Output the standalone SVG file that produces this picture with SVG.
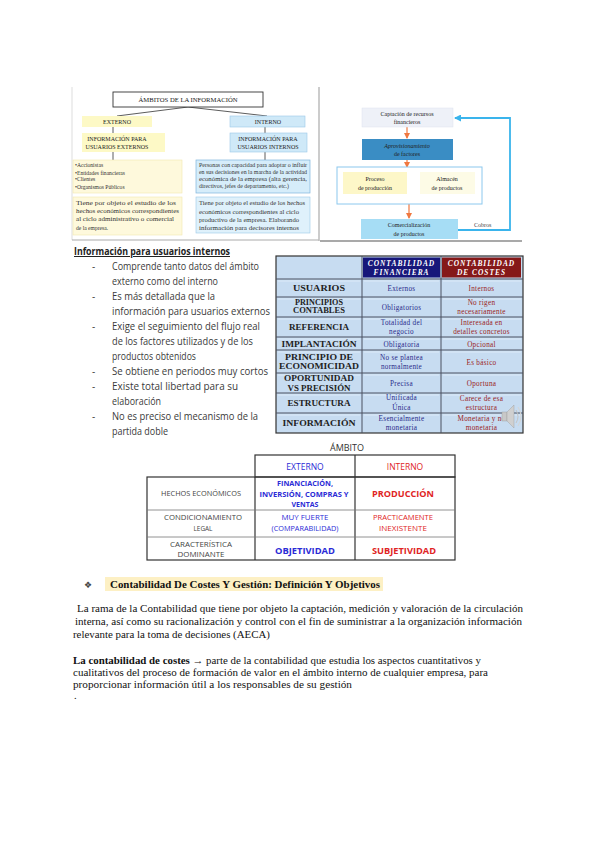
<svg xmlns="http://www.w3.org/2000/svg" width="600" height="848" viewBox="0 0 600 848">
<defs>
<marker id="ao" markerWidth="6" markerHeight="6" refX="5" refY="3" orient="auto" markerUnits="userSpaceOnUse"><path d="M0,0 L6,3 L0,6 z" fill="#f07840"/></marker>
<marker id="ab" markerWidth="7" markerHeight="7" refX="6" refY="3.5" orient="auto" markerUnits="userSpaceOnUse"><path d="M0,0 L7,3.5 L0,7 z" fill="#3ab4ec"/></marker>
</defs>
<style>
.sf{font-family:"Liberation Serif",serif}
.ss{font-family:"Liberation Sans",sans-serif}
.os{font-family:"Open Sans","Liberation Sans",sans-serif}
.tl{font-size:5.6px;fill:#333}
.tc{font-size:6px;fill:#222;text-anchor:middle}
.ln{stroke:#333;stroke-width:0.8;fill:none}
.bul{font-size:10px;fill:#3a3a3a}
.c1{font-size:7.2px;font-weight:bold;fill:#222;text-anchor:middle}
.c2{font-size:7.2px;fill:#2a2a8a;text-anchor:middle;letter-spacing:0.3px}
.c3{font-size:7.2px;fill:#9a2222;text-anchor:middle;letter-spacing:0.3px}
.hd{font-size:7.4px;font-weight:bold;font-style:italic;fill:#fff;text-anchor:middle;letter-spacing:1px}
.bl{fill:#2b2bd6;text-anchor:middle}
.rd{fill:#e02424;text-anchor:middle}
.gy{fill:#444;text-anchor:middle;font-size:6.4px}
.par{font-size:10.5px;fill:#111}
.of{stroke:#f07840;stroke-width:1.2;fill:none}
</style>
<rect width="600" height="848" fill="#fff"/>

<!-- top-left image -->
<g id="img1">
<line x1="72" y1="87" x2="72" y2="240" stroke="#ddd" stroke-width="1"/>
<line x1="72" y1="240" x2="319" y2="240" stroke="#aaa" stroke-width="1"/>
<line x1="319" y1="87" x2="319" y2="241" stroke="#bbb" stroke-width="1.5"/>
</g>
<g id="connectors1">
<line class="ln" x1="188" y1="107" x2="117" y2="116"/>
<line class="ln" x1="188" y1="107" x2="267" y2="116"/>
<line class="ln" x1="113" y1="127" x2="113" y2="133"/>
<line class="ln" x1="113" y1="152" x2="113" y2="160"/>
<line class="ln" x1="265" y1="127" x2="265" y2="133"/>
<line class="ln" x1="265" y1="152" x2="265" y2="160"/>
</g>
<g id="n-ambitos">
<rect x="113" y="92" width="150" height="15" fill="#fff" stroke="#333" stroke-width="0.9"/>
<text class="sf tc" x="188" y="102" textLength="99" lengthAdjust="spacingAndGlyphs">ÁMBITOS DE LA INFORMACIÓN</text>
</g>
<g id="n-externo">
<rect x="82" y="116" width="70" height="11" fill="#fdf9c6"/>
<text class="sf tc" x="117" y="124">EXTERNO</text>
</g>
<g id="n-interno">
<rect x="230" y="116" width="75" height="11" fill="#cfe9f8" stroke="#9cc8e8" stroke-width="0.6"/>
<text class="sf tc" x="268" y="124">INTERNO</text>
</g>
<g id="n-info-ext">
<rect x="82" y="133" width="83" height="19" fill="#fdf9c6"/>
<text class="sf tc" x="117" y="140.5">INFORMACIÓN PARA</text>
<text class="sf tc" x="117" y="149">USUARIOS EXTERNOS</text>
</g>
<g id="n-info-int">
<rect x="230" y="133" width="77" height="19" fill="#cfe9f8" stroke="#9cc8e8" stroke-width="0.6"/>
<text class="sf tc" x="268" y="140.5">INFORMACIÓN PARA</text>
<text class="sf tc" x="268" y="149">USUARIOS INTERNOS</text>
</g>
<g id="n-usuarios-ext">
<rect x="73" y="160" width="109" height="33" fill="#fef9dc" stroke="#f2e6b0" stroke-width="0.6"/>
<text class="sf tl" x="75" y="167">•Accionistas</text>
<text class="sf tl" x="75" y="174.5">•Entidades financieras</text>
<text class="sf tl" x="75" y="181">•Clientes</text>
<text class="sf tl" x="75" y="188.5">•Organismos Públicos</text>
</g>
<g id="n-usuarios-int">
<rect x="196" y="160" width="114" height="33" fill="#d6edfa" stroke="#7fb5dd" stroke-width="0.7"/>
<text class="sf tl" x="199" y="167" textLength="108" lengthAdjust="spacingAndGlyphs">Personas con capacidad para adoptar o influir</text>
<text class="sf tl" x="199" y="174" textLength="108" lengthAdjust="spacingAndGlyphs">en sus decisiones en la marcha de la actividad</text>
<text class="sf tl" x="199" y="181" textLength="108" lengthAdjust="spacingAndGlyphs">económica de la empresa (alta gerencia,</text>
<text class="sf tl" x="199" y="188" textLength="90" lengthAdjust="spacingAndGlyphs">directivos, jefes de departamento, etc.)</text>
</g>
<g id="n-objeto-ext">
<rect x="73" y="197" width="109" height="38" fill="#fef9dc" stroke="#f2e6b0" stroke-width="0.6"/>
<text class="sf tl" x="76" y="205" textLength="100" lengthAdjust="spacingAndGlyphs">Tiene por objeto el estudio de los</text>
<text class="sf tl" x="76" y="213" textLength="103" lengthAdjust="spacingAndGlyphs">hechos económicos correspondientes</text>
<text class="sf tl" x="76" y="221" textLength="98" lengthAdjust="spacingAndGlyphs">al ciclo administrativo o comercial</text>
<text class="sf tl" x="76" y="229.5">de la empresa.</text>
</g>
<g id="n-objeto-int">
<rect x="196" y="197" width="114" height="36" fill="#dff1fb" stroke="#9cc8e8" stroke-width="0.6"/>
<text class="sf tl" x="199" y="205" textLength="106" lengthAdjust="spacingAndGlyphs">Tiene por objeto el estudio de los hechos</text>
<text class="sf tl" x="199" y="213.5" textLength="100" lengthAdjust="spacingAndGlyphs">económicos correspondientes al ciclo</text>
<text class="sf tl" x="199" y="221.5" textLength="100" lengthAdjust="spacingAndGlyphs">productivo de la empresa. Elaborando</text>
<text class="sf tl" x="199" y="229.5" textLength="100" lengthAdjust="spacingAndGlyphs">información para decisores internos</text>
</g>

<!-- top-right flow -->
<g id="connectors2">
<line class="of" x1="407" y1="127" x2="407" y2="138" marker-end="url(#ao)"/>
<line class="of" x1="407" y1="160" x2="407" y2="167" marker-end="url(#ao)"/>
<line class="of" x1="408" y1="184" x2="419" y2="184" marker-end="url(#ao)"/>
<line class="of" x1="409" y1="204" x2="409" y2="218" marker-end="url(#ao)"/>
<polyline points="458,230 510,230 510,118 455,118" fill="none" stroke="#3ab4ec" stroke-width="1.8" marker-end="url(#ab)"/>
<text class="sf" x="474" y="227" font-size="6" fill="#444">Cobros</text>
<line x1="320" y1="241" x2="522" y2="241" stroke="#555" stroke-width="1.2"/>
</g>
<g id="n-captacion">
<rect x="362" y="108" width="91" height="19" fill="#eef1f8" stroke="#dde3ef" stroke-width="0.5"/>
<text class="sf tc" x="407" y="115.5" fill="#444">Captación de recursos</text>
<text class="sf tc" x="407" y="123.5" fill="#444">financieros</text>
</g>
<g id="n-aprov">
<rect x="362" y="139" width="91" height="21" fill="#3a8dc4"/>
<text class="sf tc" x="407" y="147.5" font-style="italic" fill="#1a2a40">Aprovisionamiento</text>
<text class="sf tc" x="407" y="156" fill="#1a2a40">de factores</text>
</g>
<g id="n-produccion-area">
<rect x="337" y="167" width="145" height="37" fill="#fff" stroke="#8cc8ee" stroke-width="1"/>
</g>
<g id="n-proceso">
<rect x="343" y="172" width="64" height="22" fill="#fdf7c8"/>
<text class="sf tc" x="375" y="181" fill="#c0502a">Proceso</text>
<text class="sf tc" x="375" y="189.5" fill="#c0502a">de producción</text>
</g>
<g id="n-almacen">
<rect x="420" y="172" width="55" height="22" fill="#fdfbe6"/>
<text class="sf tc" x="447" y="181" fill="#777">Almacén</text>
<text class="sf tc" x="447" y="189.5" fill="#777">de productos</text>
</g>
<g id="n-comercial">
<rect x="361" y="219" width="97" height="20" fill="#a6ddf5"/>
<text class="sf tc" x="409" y="227" fill="#333">Comercialización</text>
<text class="sf tc" x="409" y="235.5" fill="#333">de productos</text>
</g>

<!-- bullet list -->
<g id="bullets">
<text class="os" x="74" y="255" font-size="10" font-weight="bold" fill="#222" text-decoration="underline" textLength="156" lengthAdjust="spacingAndGlyphs">Información para usuarios internos</text>
<g class="os bul">
<text x="92" y="270">-</text><text x="112" y="270" textLength="147" lengthAdjust="spacingAndGlyphs">Comprende tanto datos del ámbito</text>
<text x="112" y="285" textLength="106" lengthAdjust="spacingAndGlyphs">externo como del interno</text>
<text x="92" y="300">-</text><text x="112" y="300" textLength="103" lengthAdjust="spacingAndGlyphs">Es más detallada que la</text>
<text x="112" y="315" textLength="158" lengthAdjust="spacingAndGlyphs">información para usuarios externos</text>
<text x="92" y="330">-</text><text x="112" y="330" textLength="148" lengthAdjust="spacingAndGlyphs">Exige el seguimiento del flujo real</text>
<text x="112" y="345" textLength="141" lengthAdjust="spacingAndGlyphs">de los factores utilizados y de los</text>
<text x="112" y="360" textLength="84" lengthAdjust="spacingAndGlyphs">productos obtenidos</text>
<text x="92" y="375">-</text><text x="112" y="375" textLength="156" lengthAdjust="spacingAndGlyphs">Se obtiene en periodos muy cortos</text>
<text x="92" y="390">-</text><text x="112" y="390" textLength="126" lengthAdjust="spacingAndGlyphs">Existe total libertad para su</text>
<text x="112" y="405" textLength="49" lengthAdjust="spacingAndGlyphs">elaboración</text>
<text x="92" y="420">-</text><text x="112" y="420" textLength="146" lengthAdjust="spacingAndGlyphs">No es preciso el mecanismo de la</text>
<text x="112" y="435" textLength="56" lengthAdjust="spacingAndGlyphs">partida doble</text>
</g>
</g>

<!-- comparison table -->
<g id="tabla-contabilidad">
<rect x="276" y="256" width="247" height="177" fill="#c7dcf1" stroke="#333" stroke-width="1.2"/>
<rect x="363" y="257.5" width="77" height="20" fill="#17177a"/>
<rect x="442" y="257.5" width="79" height="20" fill="#851818"/>
<g stroke="#4a5060" stroke-width="1">
<line x1="276" y1="279" x2="523" y2="279"/>
<line x1="276" y1="297" x2="523" y2="297"/>
<line x1="276" y1="317" x2="523" y2="317"/>
<line x1="276" y1="337" x2="523" y2="337"/>
<line x1="276" y1="350" x2="523" y2="350"/>
<line x1="276" y1="373" x2="523" y2="373"/>
<line x1="276" y1="393" x2="523" y2="393"/>
<line x1="276" y1="413" x2="523" y2="413"/>
<line x1="362" y1="256" x2="362" y2="433"/>
<line x1="441" y1="256" x2="441" y2="433"/>
</g>
<g stroke="#e6f0fa" stroke-width="0.7">
<line x1="278" y1="281" x2="360" y2="281"/><line x1="364" y1="281" x2="439" y2="281"/><line x1="443" y1="281" x2="521" y2="281"/>
<line x1="278" y1="299" x2="360" y2="299"/><line x1="364" y1="299" x2="439" y2="299"/><line x1="443" y1="299" x2="521" y2="299"/>
<line x1="278" y1="319" x2="360" y2="319"/><line x1="364" y1="319" x2="439" y2="319"/><line x1="443" y1="319" x2="521" y2="319"/>
<line x1="278" y1="339" x2="360" y2="339"/><line x1="364" y1="339" x2="439" y2="339"/><line x1="443" y1="339" x2="521" y2="339"/>
<line x1="278" y1="352" x2="360" y2="352"/><line x1="364" y1="352" x2="439" y2="352"/><line x1="443" y1="352" x2="521" y2="352"/>
<line x1="278" y1="375" x2="360" y2="375"/><line x1="364" y1="375" x2="439" y2="375"/><line x1="443" y1="375" x2="521" y2="375"/>
<line x1="278" y1="395" x2="360" y2="395"/><line x1="364" y1="395" x2="439" y2="395"/><line x1="443" y1="395" x2="521" y2="395"/>
<line x1="278" y1="415" x2="360" y2="415"/><line x1="364" y1="415" x2="439" y2="415"/><line x1="443" y1="415" x2="521" y2="415"/>
</g>
<g class="sf">
<text class="hd" x="401.5" y="265.5">CONTABILIDAD</text>
<text class="hd" x="401.5" y="275">FINANCIERA</text>
<text class="hd" x="481.5" y="265.5">CONTABILIDAD</text>
<text class="hd" x="481.5" y="275">DE COSTES</text>

<text class="c1" x="319" y="291" textLength="52" lengthAdjust="spacingAndGlyphs">USUARIOS</text>
<text class="c1" x="319" y="305" textLength="48" lengthAdjust="spacingAndGlyphs">PRINCIPIOS</text>
<text class="c1" x="319" y="313" textLength="52" lengthAdjust="spacingAndGlyphs">CONTABLES</text>
<text class="c1" x="319" y="329.5" textLength="60" lengthAdjust="spacingAndGlyphs">REFERENCIA</text>
<text class="c1" x="319" y="346.5" textLength="75" lengthAdjust="spacingAndGlyphs">IMPLANTACIÓN</text>
<text class="c1" x="319" y="360" textLength="68" lengthAdjust="spacingAndGlyphs">PRINCIPIO DE</text>
<text class="c1" x="319" y="369" textLength="80" lengthAdjust="spacingAndGlyphs">ECONOMICIDAD</text>
<text class="c1" x="319" y="381" textLength="70" lengthAdjust="spacingAndGlyphs">OPORTUNIDAD</text>
<text class="c1" x="319" y="391" textLength="63" lengthAdjust="spacingAndGlyphs">VS PRECISIÓN</text>
<text class="c1" x="319" y="406" textLength="63" lengthAdjust="spacingAndGlyphs">ESTRUCTURA</text>
<text class="c1" x="319" y="426" textLength="73" lengthAdjust="spacingAndGlyphs">INFORMACIÓN</text>

<text class="c2" x="401.5" y="290.5">Externos</text>
<text class="c2" x="401.5" y="309.5">Obligatorios</text>
<text class="c2" x="401.5" y="325">Totalidad del</text>
<text class="c2" x="401.5" y="333.5">negocio</text>
<text class="c2" x="401.5" y="346.5">Obligatoria</text>
<text class="c2" x="401.5" y="360">No se plantea</text>
<text class="c2" x="401.5" y="369">normalmente</text>
<text class="c2" x="401.5" y="386">Precisa</text>
<text class="c2" x="401.5" y="400">Unificada</text>
<text class="c2" x="401.5" y="410">Única</text>
<text class="c2" x="401.5" y="420.5">Esencialmente</text>
<text class="c2" x="401.5" y="429.5">monetaria</text>

<text class="c3" x="481.5" y="290.5">Internos</text>
<text class="c3" x="481.5" y="305">No rigen</text>
<text class="c3" x="481.5" y="313.5">necesariamente</text>
<text class="c3" x="481.5" y="325">Interesada en</text>
<text class="c3" x="481.5" y="333.5">detalles concretos</text>
<text class="c3" x="481.5" y="346.5">Opcional</text>
<text class="c3" x="481.5" y="364.5">Es básico</text>
<text class="c3" x="481.5" y="386">Oportuna</text>
<text class="c3" x="481.5" y="400.5">Carece de esa</text>
<text class="c3" x="481.5" y="409.5">estructura</text>
<text class="c3" x="481.5" y="420.5">Monetaria y no</text>
<text class="c3" x="481.5" y="429.5">monetaria</text>
</g>
</g>
<g id="altavoz">
<rect x="502" y="412" width="5" height="9" fill="#c8c8c8" stroke="#999" stroke-width="0.4"/>
<path d="M507,412 L514,405 L514,428 L507,421 z" fill="#d0d0d0" stroke="#999" stroke-width="0.4"/>
<path d="M516,410 Q520,416.5 516,423" fill="none" stroke="#c4c4c4" stroke-width="1"/>
<path d="M518,407 Q524,416.5 518,426" fill="none" stroke="#d4d4d4" stroke-width="1"/>
</g>

<!-- ámbito table -->
<g id="tabla-ambito" class="os">
<text x="347" y="450.5" font-size="9" fill="#333" text-anchor="middle">ÁMBITO</text>
<rect x="255" y="455" width="200" height="22" fill="none" stroke="#333" stroke-width="1.2"/>
<rect x="147" y="477" width="308" height="83" fill="none" stroke="#333" stroke-width="1.2"/>
<line x1="355" y1="455" x2="355" y2="560" stroke="#333" stroke-width="1.2"/>
<line x1="255" y1="477" x2="255" y2="560" stroke="#333" stroke-width="1.2"/>
<line x1="147" y1="510" x2="455" y2="510" stroke="#777" stroke-width="0.8"/>
<line x1="147" y1="537" x2="455" y2="537" stroke="#777" stroke-width="0.8"/>
<text class="bl" x="305" y="470" font-size="8.5">EXTERNO</text>
<text class="rd" x="405" y="470" font-size="8.5">INTERNO</text>
<text class="gy" x="201" y="496" textLength="80" lengthAdjust="spacingAndGlyphs">HECHOS ECONÓMICOS</text>
<text class="bl" x="305" y="486" font-size="7" font-weight="bold" textLength="56" lengthAdjust="spacingAndGlyphs">FINANCIACIÓN,</text>
<text class="bl" x="304" y="496.5" font-size="7" font-weight="bold" textLength="89" lengthAdjust="spacingAndGlyphs">INVERSIÓN, COMPRAS Y</text>
<text class="bl" x="305" y="507" font-size="7" font-weight="bold">VENTAS</text>
<text class="rd" x="403" y="497" font-size="9.2" font-weight="bold" textLength="62" lengthAdjust="spacingAndGlyphs">PRODUCCIÓN</text>
<text class="gy" x="203" y="520" textLength="78" lengthAdjust="spacingAndGlyphs">CONDICIONAMIENTO</text>
<text class="gy" x="203" y="531">LEGAL</text>
<text class="bl" x="305" y="520" font-size="7" textLength="47" lengthAdjust="spacingAndGlyphs">MUY FUERTE</text>
<text class="bl" x="305" y="531" font-size="7" textLength="67" lengthAdjust="spacingAndGlyphs">(COMPARABILIDAD)</text>
<text class="rd" x="403" y="520" font-size="7" fill="#e83a3a" textLength="60" lengthAdjust="spacingAndGlyphs">PRACTICAMENTE</text>
<text class="rd" x="403" y="531" font-size="7" fill="#e83a3a" textLength="48" lengthAdjust="spacingAndGlyphs">INEXISTENTE</text>
<text class="gy" x="201" y="546.5" textLength="62" lengthAdjust="spacingAndGlyphs">CARACTERÍSTICA</text>
<text class="gy" x="201" y="557" textLength="47" lengthAdjust="spacingAndGlyphs">DOMINANTE</text>
<text class="bl" x="305" y="553.5" font-size="9.2" font-weight="bold" textLength="60" lengthAdjust="spacingAndGlyphs">OBJETIVIDAD</text>
<text class="rd" x="404" y="553.5" font-size="9.2" font-weight="bold" textLength="64" lengthAdjust="spacingAndGlyphs">SUBJETIVIDAD</text>
</g>

<!-- text section -->
<g id="texto">
<rect x="105" y="577" width="278" height="14" fill="#fdf0c4"/>
<text x="84" y="588" font-family="DejaVu Sans,sans-serif" font-size="9" fill="#444">❖</text>
<text class="sf" x="110" y="588" font-size="10.5" font-weight="bold" fill="#111" textLength="270" lengthAdjust="spacingAndGlyphs">Contabilidad De Costes Y Gestión: Definición Y Objetivos</text>
<text class="sf par" x="77" y="612" textLength="446" lengthAdjust="spacingAndGlyphs">La rama de la Contabilidad que tiene por objeto la captación, medición y valoración de la circulación</text>
<text class="sf par" x="75" y="625" textLength="447" lengthAdjust="spacingAndGlyphs">interna, así como su racionalización y control con el fin de suministrar a la organización información</text>
<text class="sf par" x="73" y="638" textLength="197" lengthAdjust="spacingAndGlyphs">relevante para la toma de decisiones (AECA)</text>
<text class="sf par" x="73" y="664" textLength="408" lengthAdjust="spacingAndGlyphs"><tspan font-weight="bold">La contabilidad de costes</tspan> → parte de la contabilidad que estudia los aspectos cuantitativos y</text>
<text class="sf par" x="73" y="676" textLength="415" lengthAdjust="spacingAndGlyphs">cualitativos del proceso de formación de valor en el ámbito interno de cualquier empresa, para</text>
<text class="sf par" x="73" y="688" textLength="279" lengthAdjust="spacingAndGlyphs">proporcionar información útil a los responsables de su gestión</text>
<text class="sf par" x="74" y="699">.</text>
</g>
</svg>
